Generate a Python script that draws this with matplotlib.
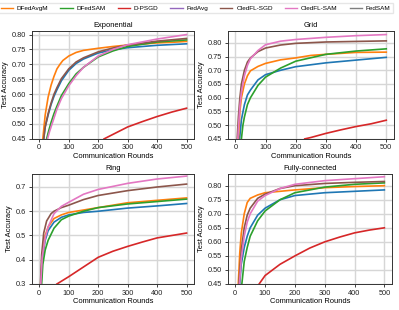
import numpy as np
import matplotlib
matplotlib.use("Agg")
import matplotlib.pyplot as plt
from matplotlib.lines import Line2D

# legend entries as shown on top of the figure
legend_labels = ["DFedAvgM", "DFedSAM", "D-PSGD", "FedAvg", "OledFL-SGD", "OledFL-SAM", "FedSAM"]
legend_colors = ["C1", "C2", "C3", "C4", "C5", "C6", "C7"]

# curves: (x points, y points) per colour
exp_blue = ([15, 20, 30, 40, 50, 60, 75, 100, 125, 150, 200, 250, 300, 400, 500],
            [0.45, 0.49, 0.53, 0.565, 0.593, 0.615, 0.645, 0.68, 0.703, 0.718, 0.738, 0.749, 0.756, 0.764, 0.769])
exp_orange = ([12, 20, 30, 40, 50, 60, 70, 80, 100, 125, 150, 200, 250, 300, 350, 400, 450, 500],
              [0.45, 0.53, 0.59, 0.63, 0.66, 0.685, 0.70, 0.713, 0.728, 0.740, 0.747, 0.754, 0.760, 0.765, 0.768, 0.772, 0.774, 0.777])
exp_green = ([25, 30, 40, 50, 60, 75, 100, 125, 150, 200, 250, 300, 400, 500],
             [0.45, 0.47, 0.505, 0.535, 0.56, 0.595, 0.635, 0.668, 0.69, 0.725, 0.745, 0.76, 0.775, 0.782])
exp_red = ([220, 250, 300, 350, 400, 450, 500],
           [0.45, 0.465, 0.49, 0.508, 0.525, 0.54, 0.553])
exp_brown = ([15, 20, 30, 40, 50, 60, 75, 100, 125, 150, 200, 250, 300, 400, 500],
             [0.45, 0.49, 0.535, 0.57, 0.60, 0.622, 0.652, 0.685, 0.708, 0.722, 0.742, 0.755, 0.765, 0.778, 0.787])
exp_pink = ([28, 35, 40, 50, 60, 75, 100, 125, 150, 200, 250, 300, 400, 500],
            [0.45, 0.475, 0.49, 0.52, 0.55, 0.585, 0.628, 0.662, 0.69, 0.728, 0.75, 0.766, 0.785, 0.80])

grid_blue = ([14, 20, 30, 40, 50, 75, 100, 150, 200, 300, 400, 500],
             [0.45, 0.52, 0.575, 0.61, 0.628, 0.665, 0.684, 0.70, 0.713, 0.727, 0.737, 0.747])
grid_orange = ([10, 15, 20, 30, 40, 50, 75, 100, 150, 200, 250, 300, 400, 500],
               [0.45, 0.55, 0.60, 0.65, 0.68, 0.698, 0.714, 0.725, 0.738, 0.745, 0.754, 0.758, 0.765, 0.766])
grid_green = ([20, 25, 30, 40, 50, 75, 100, 150, 200, 300, 400, 500],
              [0.45, 0.50, 0.53, 0.575, 0.60, 0.645, 0.675, 0.708, 0.733, 0.758, 0.77, 0.778])
grid_red = ([230, 250, 300, 350, 400, 450, 500],
            [0.45, 0.455, 0.47, 0.483, 0.495, 0.505, 0.518])
grid_brown = ([6, 10, 15, 20, 30, 40, 50, 75, 100, 150, 200, 300, 400, 500],
              [0.45, 0.53, 0.60, 0.65, 0.70, 0.73, 0.745, 0.768, 0.781, 0.792, 0.798, 0.803, 0.805, 0.807])
grid_pink = ([8, 12, 15, 20, 30, 40, 50, 75, 100, 150, 200, 300, 400, 500],
             [0.45, 0.52, 0.57, 0.62, 0.68, 0.718, 0.742, 0.772, 0.793, 0.806, 0.812, 0.82, 0.826, 0.83])

ring_blue = ([6, 10, 20, 30, 50, 75, 100, 150, 200, 300, 400, 500],
             [0.30, 0.40, 0.48, 0.52, 0.555, 0.575, 0.585, 0.595, 0.60, 0.613, 0.622, 0.632])
ring_orange = ([5, 10, 20, 30, 50, 75, 100, 150, 200, 300, 400, 500],
               [0.30, 0.42, 0.50, 0.535, 0.57, 0.585, 0.595, 0.605, 0.615, 0.635, 0.645, 0.655])
ring_green = ([8, 12, 20, 30, 50, 75, 100, 150, 200, 300, 400, 500],
              [0.30, 0.38, 0.44, 0.48, 0.53, 0.565, 0.58, 0.60, 0.615, 0.63, 0.64, 0.65])
ring_red = ([60, 100, 150, 200, 250, 300, 350, 400, 450, 500],
            [0.30, 0.33, 0.37, 0.41, 0.435, 0.455, 0.473, 0.49, 0.50, 0.51])
ring_brown = ([4, 8, 15, 25, 40, 50, 75, 100, 150, 200, 300, 400, 500],
              [0.30, 0.42, 0.51, 0.56, 0.59, 0.60, 0.615, 0.625, 0.648, 0.665, 0.685, 0.70, 0.712])
ring_pink = ([5, 10, 20, 30, 50, 75, 100, 150, 200, 300, 400, 500],
             [0.30, 0.41, 0.49, 0.535, 0.59, 0.62, 0.637, 0.67, 0.69, 0.715, 0.733, 0.745])

fc_blue = ([15, 20, 30, 40, 50, 75, 100, 150, 200, 300, 400, 500],
           [0.45, 0.52, 0.58, 0.62, 0.65, 0.695, 0.72, 0.75, 0.765, 0.775, 0.78, 0.785])
fc_orange = ([10, 15, 20, 30, 40, 50, 75, 100, 150, 200, 300, 400, 500],
             [0.45, 0.56, 0.63, 0.70, 0.74, 0.755, 0.767, 0.775, 0.78, 0.785, 0.793, 0.797, 0.80])
fc_green = ([22, 30, 40, 50, 75, 100, 150, 200, 300, 400, 500],
            [0.45, 0.53, 0.58, 0.62, 0.675, 0.71, 0.75, 0.775, 0.795, 0.805, 0.81])
fc_red = ([80, 100, 150, 200, 250, 300, 350, 400, 450, 500],
          [0.45, 0.48, 0.52, 0.55, 0.578, 0.60, 0.617, 0.632, 0.642, 0.65])
fc_brown = ([12, 20, 30, 40, 50, 75, 100, 150, 200, 300, 400, 500],
            [0.45, 0.57, 0.65, 0.695, 0.72, 0.755, 0.77, 0.79, 0.80, 0.808, 0.812, 0.815])
fc_pink = ([14, 20, 30, 40, 50, 75, 100, 150, 200, 300, 400, 500],
           [0.45, 0.54, 0.62, 0.67, 0.70, 0.745, 0.765, 0.79, 0.805, 0.818, 0.825, 0.832])

panels = [
    ("Exponential", [exp_blue, exp_orange, exp_green, exp_red, exp_brown, exp_pink],
     (0.45, 0.812), [0.45, 0.50, 0.55, 0.60, 0.65, 0.70, 0.75, 0.80], "%.2f"),
    ("Grid", [grid_blue, grid_orange, grid_green, grid_red, grid_brown, grid_pink],
     (0.45, 0.843), [0.45, 0.50, 0.55, 0.60, 0.65, 0.70, 0.75, 0.80], "%.2f"),
    ("Ring", [ring_blue, ring_orange, ring_green, ring_red, ring_brown, ring_pink],
     (0.30, 0.754), [0.3, 0.4, 0.5, 0.6, 0.7], "%.1f"),
    ("Fully-connected", [fc_blue, fc_orange, fc_green, fc_red, fc_brown, fc_pink],
     (0.45, 0.842), [0.45, 0.50, 0.55, 0.60, 0.65, 0.70, 0.75, 0.80], "%.2f"),
]
curve_colors = ["C0", "C1", "C2", "C3", "C5", "C6"]

rects = [
    [0.080, 0.552, 0.406, 0.348],
    [0.571, 0.552, 0.416, 0.348],
    [0.080, 0.084, 0.406, 0.355],
    [0.571, 0.084, 0.411, 0.355],
]

plt.rcParams['font.family'] = ['Liberation Sans', 'DejaVu Sans']
fig = plt.figure(figsize=(3.99, 3.10), dpi=100)

for rect, (title, curves, ylim, yticks, fmt) in zip(rects, panels):
    ax = fig.add_axes(rect)
    for (xs, ys), c in zip(curves, curve_colors):
        ax.plot(xs, ys, color=c, lw=1.2)
    ax.set_xlim(-25, 525)
    ax.set_ylim(*ylim)
    ax.set_xticks([0, 100, 200, 300, 400, 500])
    ax.set_yticks(yticks)
    ax.set_yticklabels([fmt % v for v in yticks])
    ax.tick_params(labelsize=5.3, length=2.5, width=0.6, pad=1.5, colors="#222222")
    ax.grid(True, color="#d6d6d6", lw=1.0)
    ax.set_axisbelow(True)
    for s in ax.spines.values():
        s.set_linewidth(0.7)
        s.set_color("#333333")
    ax.set_title(title, fontsize=5.4, pad=3)
    ax.set_xlabel("Communication Rounds", fontsize=5.4, labelpad=1)
    ax.set_ylabel("Test Accuracy", fontsize=5.4, labelpad=2)

handles = [Line2D([0], [0], color=c, lw=1.0) for c in legend_colors]
fig.legend(handles, legend_labels, loc="upper center", bbox_to_anchor=(0.49, 1.0),
           ncol=7, fontsize=4.6, frameon=True, handlelength=1.9, columnspacing=1.9,
           handletextpad=0.6, borderpad=0.35, fancybox=False, edgecolor="#e0e0e0")

fig.savefig("out.png", dpi=100)
